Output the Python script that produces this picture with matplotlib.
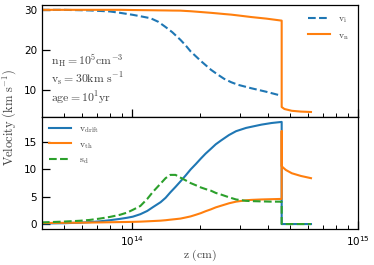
import numpy as np
import matplotlib
matplotlib.use('Agg')
import matplotlib.pyplot as plt

plt.rcParams['mathtext.fontset'] = 'cm'
plt.rcParams['font.family'] = ['DejaVu Sans']

# top panel: ion / neutral velocity (pre-shock)
z_top = [4.0e13, 5.0e13, 6.5e13, 7.99e13, 8.87e13, 1.01e14, 1.09e14, 1.21e14, 1.31e14,
         1.41e14, 1.51e14, 1.64e14, 1.73e14, 1.82e14, 2.02e14, 2.24e14, 2.40e14, 2.56e14,
         2.75e14, 2.95e14, 3.37e14, 3.94e14, 4.6e14]
v_i = [30.0, 30.0, 29.85, 29.6, 29.25, 28.75, 28.4, 27.9, 27.0,
       25.7, 24.4, 22.5, 21.1, 19.6, 17.2, 15.0, 13.8, 12.75,
       11.9, 11.25, 10.4, 9.5, 8.5]
v_n_pre = [30.0, 30.0, 30.0, 30.0, 30.0, 29.95, 29.93, 29.9, 29.87,
           29.85, 29.82, 29.8, 29.72, 29.65, 29.45, 29.25, 29.1, 28.95,
           28.8, 28.6, 28.2, 27.8, 27.3]
# post-shock neutrals
z_top_post = [4.6e14, 4.73e14, 5.1e14, 5.6e14, 6.2e14]
v_n_post = [5.7, 5.2, 4.75, 4.55, 4.45]

# bottom panel
z_bot = [4.0e13, 5.0e13, 5.88e13, 6.5e13, 7.22e13, 7.99e13, 8.87e13, 9.53e13,
         1.01e14, 1.09e14, 1.17e14, 1.24e14, 1.34e14, 1.41e14, 1.48e14, 1.56e14,
         1.64e14, 1.73e14, 1.82e14, 1.92e14, 2.02e14, 2.12e14, 2.24e14, 2.35e14,
         2.48e14, 2.69e14, 2.89e14, 3.20e14, 3.37e14, 3.74e14, 4.15e14, 4.6e14]
v_drift_pre = [0.1, 0.15, 0.25, 0.35, 0.5, 0.7, 0.95, 1.15,
               1.35, 1.8, 2.4, 3.1, 4.0, 4.8, 5.8, 6.8,
               7.8, 8.9, 10.0, 11.0, 12.0, 12.9, 13.8, 14.6,
               15.3, 16.3, 17.0, 17.6, 17.8, 18.2, 18.5, 18.7]
v_th_pre = [0.2, 0.22, 0.25, 0.27, 0.3, 0.33, 0.36, 0.38,
            0.4, 0.44, 0.5, 0.55, 0.62, 0.7, 0.8, 0.9,
            1.0, 1.2, 1.4, 1.7, 2.0, 2.35, 2.7, 3.05,
            3.35, 3.8, 4.1, 4.35, 4.42, 4.5, 4.55, 4.6]
s_d_pre = [0.3, 0.45, 0.6, 0.75, 1.0, 1.3, 1.7, 2.1,
           2.6, 3.3, 4.6, 5.9, 7.4, 8.4, 9.0, 9.0,
           8.5, 8.0, 7.5, 7.1, 6.7, 6.4, 6.1, 5.7,
           5.4, 4.9, 4.5, 4.25, 4.2, 4.15, 4.1, 4.1]
z_bot_post = [4.6e14, 4.6e14, 4.65e14, 4.8e14, 5.1e14, 5.6e14, 6.2e14]
v_drift_post = [0.0, 0.0, 0.0, 0.0, 0.0, 0.0, 0.0]
v_th_post = [17.0, 10.6, 10.4, 9.9, 9.3, 8.8, 8.4]
s_d_post = [0.0, 0.0, 0.0, 0.0, 0.0, 0.0, 0.0]

c_blue, c_orange, c_green = '#1f77b4', '#ff7f0e', '#2ca02c'
txt = '0.25'

fig, (ax1, ax2) = plt.subplots(2, 1, sharex=True, figsize=(3.74, 2.65), dpi=100)
fig.subplots_adjust(left=0.112, right=0.957, top=0.981, bottom=0.136, hspace=0)

ax1.plot(z_top, v_i, '--', color=c_blue, lw=1.5, label=r'$\mathrm{v_i}$')
ax1.plot(z_top + z_top_post, v_n_pre + v_n_post, color=c_orange, lw=1.5, label=r'$\mathrm{v_n}$')
ax1.set_ylim(3.2, 31.2)
ax1.set_yticks([10, 20, 30])
ax1.legend(loc='upper right', frameon=False, fontsize=7, handlelength=2.3,
           labelcolor=txt, borderaxespad=0.5, labelspacing=0.45)

ax1.text(0.03, 0.50, r'$\mathrm{n_H = 10^5cm^{-3}}$', transform=ax1.transAxes,
         fontsize=8.5, color=txt, va='center')
ax1.text(0.03, 0.335, r'$\mathrm{v_s = 30km\ s^{-1}}$', transform=ax1.transAxes,
         fontsize=8.5, color=txt, va='center')
ax1.text(0.03, 0.165, r'$\mathrm{age = 10^1yr}$', transform=ax1.transAxes,
         fontsize=8.5, color=txt, va='center')

ax2.plot(z_bot + z_bot_post, v_drift_pre + v_drift_post, color=c_blue, lw=1.5,
         label=r'$\mathrm{v_{drift}}$')
ax2.plot(z_bot + z_bot_post, v_th_pre + v_th_post, color=c_orange, lw=1.5,
         label=r'$\mathrm{v_{th}}$')
ax2.plot(z_bot + z_bot_post, s_d_pre + s_d_post, '--', color=c_green, lw=1.5,
         label=r'$\mathrm{s_d}$')
ax2.set_ylim(-0.9, 19.6)
ax2.set_yticks([0, 5, 10, 15])
ax2.legend(loc='upper left', frameon=False, fontsize=7, handlelength=2.3,
           labelcolor=txt, borderaxespad=0.3, labelspacing=0.35)

ax2.set_xscale('log')
ax2.set_xlim(4.0e13, 1.0e15)
ax2.set_xlabel(r'$\mathrm{z\ (cm)}$', fontsize=8.5, color=txt, labelpad=0)
fig.text(0.025, 1 - 117 / 265, r'$\mathrm{Velocity\ (km\ s^{-1})}$', rotation=90,
         fontsize=9, color=txt, va='center', ha='center')

for ax in (ax1, ax2):
    ax.tick_params(which='major', direction='in', length=5.5, width=0.9, labelsize=7.5,
                   top=False, right=False)
    ax.tick_params(which='minor', direction='in', length=3, width=0.7, top=False, right=False)
    ax.tick_params(axis='y', which='minor', left=False)
    for s in ax.spines.values():
        s.set_linewidth(0.9)
ax1.tick_params(labelbottom=False)

fig.savefig('out.png', dpi=100)
